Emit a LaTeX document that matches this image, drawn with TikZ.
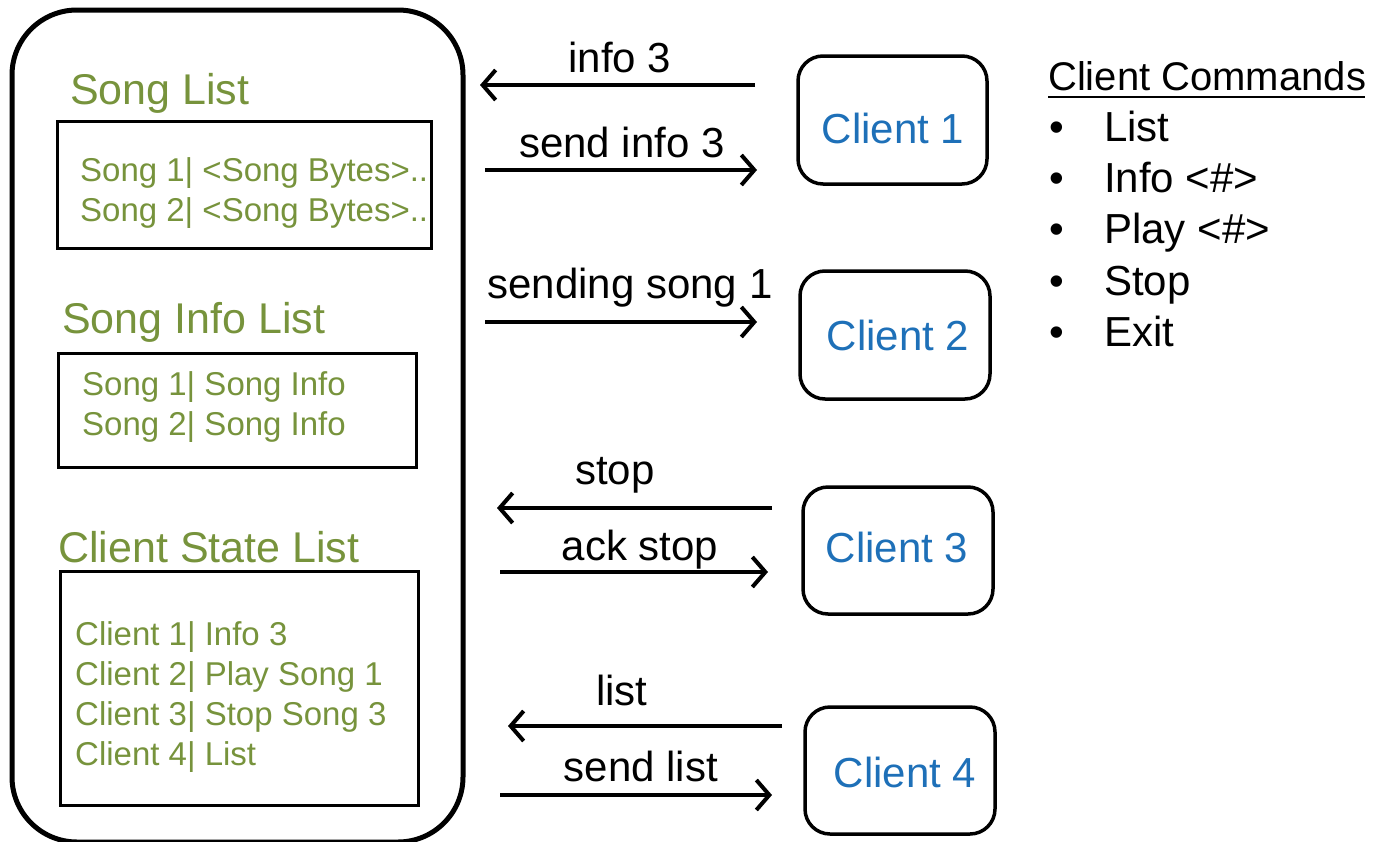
\documentclass[tikz,border=0pt]{standalone}
\usepackage{fontspec}
\setmainfont{Liberation Sans}
\usetikzlibrary{arrows.meta}
\definecolor{olive}{RGB}{119,147,60}
\definecolor{cblue}{RGB}{30,112,184}
\tikzset{
  bigfont/.style={font=\fontsize{43}{48}\selectfont},
  lblfont/.style={font=\fontsize{42}{48}\selectfont},
  smallfont/.style={font=\fontsize{33}{38}\selectfont},
  heading/.style={bigfont, text=olive, anchor=base west, inner sep=0pt},
  entry/.style={smallfont, text=olive, anchor=base west, inner sep=0pt},
  listbox/.style={draw=black, line width=3pt},
  clientbox/.style={draw=black, line width=3.5pt, rounded corners=25pt},
  clientlbl/.style={lblfont, text=cblue, inner sep=0pt},
  msg/.style={lblfont, anchor=base, inner sep=0pt},
  cmd/.style={lblfont, anchor=base west, inner sep=0pt},
  arr/.style={line width=4pt, -{Straight Barb[length=13pt,width=30pt,line width=4pt]}},
}
\begin{document}
\begin{tikzpicture}[x=1pt,y=-1pt]
\useasboundingbox (0,0) rectangle (1398,841);
% server
\draw[line width=5pt, rounded corners=65pt] (12,10) rectangle (463,842);
\node[heading] (h1) at (70,104) {Song List};
\draw[listbox] (57,121) rectangle (431,248);
\node[entry] (s1) at (80,181) {Song 1| <Song Bytes>..};
\node[entry] (s2) at (80,221) {Song 2| <Song Bytes>..};
\node[heading] (h2) at (62,333) {Song Info List};
\draw[listbox] (58,353) rectangle (416,467);
\node[entry] (i1) at (82,395) {Song 1| Song Info};
\node[entry] (i2) at (82,435) {Song 2| Song Info};
\node[heading] (h3) at (58,562) {Client State List};
\draw[listbox] (60,571) rectangle (418,805);
\node[entry] (c1) at (75,645) {Client 1| Info 3};
\node[entry] (c2) at (75,685) {Client 2| Play Song 1};
\node[entry] (c3) at (75,725) {Client 3| Stop Song 3};
\node[entry] (c4) at (75,765) {Client 4| List};
% clients
\draw[clientbox] (798,56) rectangle (987,184);
\node[clientlbl] (cl1) at (893,128) {Client 1};
\draw[clientbox] (800,271) rectangle (990,399);
\node[clientlbl] (cl2) at (898,335) {Client 2};
\draw[clientbox] (803,487) rectangle (993,614);
\node[clientlbl] (cl3) at (897,547) {Client 3};
\draw[clientbox] (805,707) rectangle (995,834);
\node[clientlbl] (cl4) at (905,772) {Client 4};
% arrow end points
\coordinate (a1s) at (755,85);  \coordinate (a1e) at (480,85);
\coordinate (a2s) at (485,170); \coordinate (a2e) at (757,170);
\coordinate (a3s) at (485,322); \coordinate (a3e) at (757,322);
\coordinate (a4s) at (772,508); \coordinate (a4e) at (497,508);
\coordinate (a5s) at (500,572); \coordinate (a5e) at (768,572);
\coordinate (a6s) at (782,726); \coordinate (a6e) at (508,726);
\coordinate (a7s) at (500,795); \coordinate (a7e) at (772,795);
\draw[arr] (a1s) -- (a1e);
\draw[arr] (a2s) -- (a2e);
\draw[arr] (a3s) -- (a3e);
\draw[arr] (a4s) -- (a4e);
\draw[arr] (a5s) -- (a5e);
\draw[arr] (a6s) -- (a6e);
\draw[arr] (a7s) -- (a7e);
\node[msg] (m1) at (620,72) {info 3};
\node[msg] (m2) at (622,157) {send info 3};
\node[msg] (m3) at (630,298) {sending song 1};
\node[msg] (m4) at (615,484) {stop};
\node[msg] (m5) at (640,560) {ack stop};
\node[msg] (m6) at (622,705) {list};
\node[msg] (m7) at (641,781) {send list};
% commands
\node[cmd, font=\fontsize{40}{46}\selectfont] (cc) at (1048,90) {Client Commands};
\draw[line width=2.5pt] (cc.base west) ++(0,7) -- ++(317,0);
\node[cmd] (b1) at (1049,141) {•}; \node[cmd] (t1) at (1104,141) {List};
\node[cmd] (b2) at (1049,192) {•}; \node[cmd] (t2) at (1104,192) {Info <\#>};
\node[cmd] (b3) at (1049,243) {•}; \node[cmd] (t3) at (1104,243) {Play <\#>};
\node[cmd] (b4) at (1049,295) {•}; \node[cmd] (t4) at (1104,295) {Stop};
\node[cmd] (b5) at (1049,346) {•}; \node[cmd] (t5) at (1104,346) {Exit};
\end{tikzpicture}
\end{document}
